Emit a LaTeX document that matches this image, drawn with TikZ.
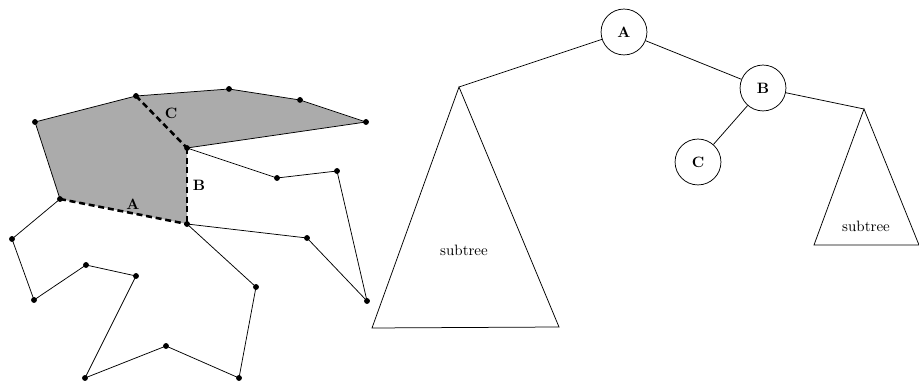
\documentclass[tikz,border=0pt]{standalone}
\begin{document}
\begin{tikzpicture}[x=0.6667pt,y=-0.6667pt,
  dot/.style={circle,fill=black,inner sep=0pt,minimum size=3.6pt},
  edge/.style={line width=0.5pt},
  cut/.style={line width=1.7pt,dash pattern=on 4pt off 2.5pt},
  tnode/.style={circle,draw,line width=0.5pt,minimum size=30.6pt,inner sep=0pt,font=\bfseries},
  lbl/.style={font=\bfseries,inner sep=0pt}]
\useasboundingbox (0,0) rectangle (919,381);

% polygon vertices
\node[dot] (p1)  at (35,122) {};
\node[dot] (p2)  at (136,96) {};
\node[dot] (p3)  at (229,89) {};
\node[dot] (p4)  at (300,100) {};
\node[dot] (p5)  at (366,122) {};
\node[dot] (p6)  at (187,148) {};
\node[dot] (p7)  at (277,178) {};
\node[dot] (p8)  at (337,171) {};
\node[dot] (p9)  at (60,199) {};
\node[dot] (p10) at (187,224) {};
\node[dot] (p11) at (12,239) {};
\node[dot] (p12) at (307,238) {};
\node[dot] (p13) at (86,265) {};
\node[dot] (p14) at (136,276) {};
\node[dot] (p15) at (34,300) {};
\node[dot] (p16) at (256,287) {};
\node[dot] (p17) at (367,301) {};
\node[dot] (p18) at (166,346) {};
\node[dot] (p19) at (85,378) {};
\node[dot] (p20) at (239,378) {};

% shaded piece cut off by A and B
\fill[black!33] (p1.center) -- (p2.center) -- (p3.center) -- (p4.center) -- (p5.center)
  -- (p6.center) -- (p10.center) -- (p9.center) -- cycle;

% polygon boundary
\draw[edge] (p1.center) -- (p2.center) -- (p3.center) -- (p4.center) -- (p5.center)
  -- (p6.center) -- (p7.center) -- (p8.center) -- (p17.center) -- (p12.center)
  -- (p10.center) -- (p16.center) -- (p20.center) -- (p18.center) -- (p19.center)
  -- (p14.center) -- (p13.center) -- (p15.center) -- (p11.center) -- (p9.center)
  -- (p1.center);

% diagonals
\draw[cut] (p9.center) -- (p10.center);
\draw[cut] (p6.center) -- (p10.center);
\draw[cut] (p2.center) -- (p6.center);

% vertices on top
\foreach \i in {1,...,20} \fill (p\i) circle (1.9pt);

\node[lbl] (la) at (133,204) {A};
\node[lbl] (lb) at (199,185) {B};
\node[lbl] (lc) at (171,113) {C};

% tree
\node[tnode] (a) at (624,32) {A};
\node[tnode] (b) at (763,88) {B};
\node[tnode] (c) at (698,162) {C};

\coordinate (ltop) at (459,87);
\coordinate (lbl1) at (372,328);
\coordinate (lbr) at (559,327);
\coordinate (rtop) at (864,109);
\coordinate (rbl) at (814,245);
\coordinate (rbr) at (919,245);

\draw[edge] (a) -- (ltop);
\draw[edge] (a) -- (b);
\draw[edge] (b) -- (c);
\draw[edge] (b) -- (rtop);

\draw[edge] (ltop) -- (lbl1) -- (lbr) -- cycle;
\draw[edge] (rtop) -- (rbl) -- (rbr) -- cycle;

\node (ls) at (464,250) {subtree};
\node (rs) at (866,226) {subtree};
\end{tikzpicture}
\end{document}
